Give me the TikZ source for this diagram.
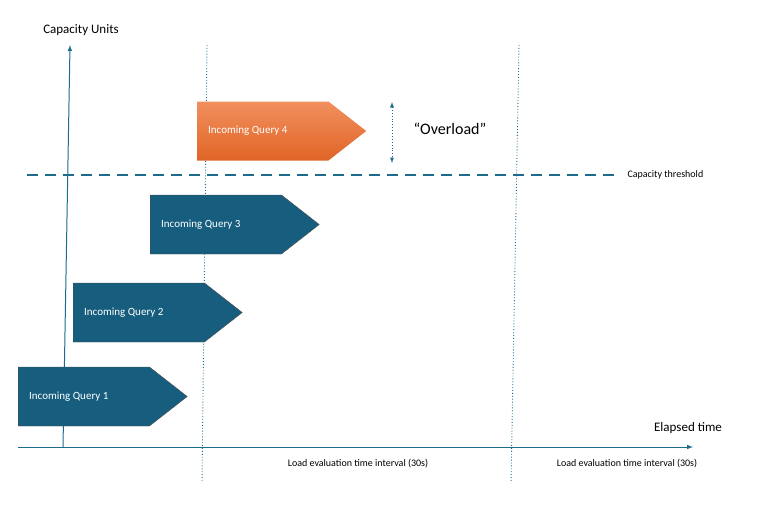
\documentclass[tikz,border=0pt]{standalone}
\usepackage{fontspec}
\setmainfont{Carlito}
\usetikzlibrary{shapes.symbols}
\definecolor{qblue}{HTML}{175E7E}
\definecolor{qorange}{HTML}{EC6A28}
\definecolor{axisblue}{HTML}{1F6B8C}
\tikzset{
    query/.style={signal, signal to=east, signal pointer angle=76, minimum width=169pt,
        minimum height=59pt, inner sep=0pt, text=white, font=\fontsize{11}{13}\selectfont},
    axis/.style={axisblue, line width=1pt, -latex},
    interval/.style={axisblue, line width=0.9pt, dotted},
}
\begin{document}
\begin{tikzpicture}[x=1pt, y=-1pt]
\useasboundingbox (0,0) rectangle (768,507);

% Interval boundaries
\draw[interval] (207,45) -- (202,483);
\draw[interval] (519,45) -- (511,483);

% Axes
\draw[axis] (63,447) -- (70,45);
\draw[axis] (18,447) -- (693,447);
\node (ylabel) at (81,30) {\fontsize{13}{15}\selectfont Capacity Units};
\node (xlabel) at (688,428) {\fontsize{13}{15}\selectfont Elapsed time};

% Capacity threshold
\coordinate (th0) at (27,175);
\coordinate (th1) at (617,175);
\draw[axisblue, line width=2.2pt, dash pattern=on 11pt off 7pt] (th0) -- (th1);
\node[anchor=west, font=\fontsize{10}{12}\selectfont] (thlabel) at (624,175) {Capacity threshold};

% Queries
\node[query, fill=qblue, draw=black!70, anchor=west] (q1) at (18,396.5) {\hspace*{-30pt}Incoming Query 1};
\node[query, fill=qblue, draw=black!70, anchor=west] (q2) at (73,312.5) {\hspace*{-30pt}Incoming Query 2};
\node[query, fill=qblue, draw=black!70, anchor=west] (q3) at (150,224.5) {\hspace*{-30pt}Incoming Query 3};
\node[query, top color=qorange!75, bottom color=qorange!95!black, anchor=west] (q4) at (197,131) {\hspace*{-30pt}Incoming Query 4};

% Overload
\coordinate (ov0) at (392,102);
\coordinate (ov1) at (392,163);
\draw[interval, latex-latex] (ov0) -- (ov1);
\node (overload) at (450,129) {\fontsize{16}{18}\selectfont “Overload”};

% Interval labels
\node[font=\fontsize{10}{12}\selectfont] (int1) at (358,464) {Load evaluation time interval (30s)};
\node[font=\fontsize{10}{12}\selectfont] (int2) at (627,464) {Load evaluation time interval (30s)};

\end{tikzpicture}
\end{document}
